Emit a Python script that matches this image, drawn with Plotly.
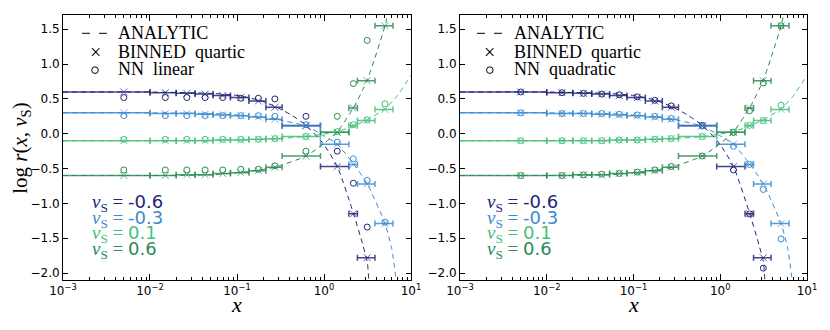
import plotly.graph_objects as go
from plotly.subplots import make_subplots

# x bins shared by every binned series (centre, lower edge, upper edge)
x_bin = [0.005, 0.015, 0.0265, 0.043, 0.0685, 0.1105, 0.176, 0.2725, 0.62, 1.42, 2.175, 3.135, 5.025]
x_lo = [0.0001, 0.01, 0.02, 0.033, 0.053, 0.084, 0.137, 0.215, 0.33, 0.91, 1.93, 2.42, 3.85]
x_hi = [0.01, 0.02, 0.033, 0.053, 0.084, 0.137, 0.215, 0.33, 0.91, 1.93, 2.42, 3.85, 6.2]

nu_labels = ["-0.6", "-0.3", "0.1", "0.6"]
colors = ["#232577", "#3a8bd0", "#45c07b", "#2b8b55"]

x_tickvals = [0.001, 0.01, 0.1, 1, 10]
x_ticktext = ["10<sup>−3</sup>", "10<sup>−2</sup>", "10<sup>−1</sup>", "10<sup>0</sup>", "10<sup>1</sup>"]

# BINNED quartic (same in both panels)
bin_m06 = [0.60, 0.59, 0.58, 0.57, 0.55, 0.52, 0.47, 0.38, 0.12, -0.47, -1.15, -1.78, None]
bin_m03 = [0.30, 0.29, 0.29, 0.28, 0.27, 0.26, 0.24, 0.21, 0.11, -0.15, -0.44, -0.72, -1.29]
bin_p01 = [-0.10, -0.10, -0.10, -0.10, -0.09, -0.09, -0.08, -0.07, -0.04, 0.02, 0.12, 0.19, 0.35]
bin_p06 = [-0.60, -0.60, -0.59, -0.59, -0.57, -0.56, -0.53, -0.48, -0.32, 0.02, 0.37, 0.76, 1.55]

# NN linear (left panel)
lin_m06 = [0.52, 0.52, 0.52, 0.52, 0.52, 0.51, 0.51, 0.50, 0.25, -0.25, -0.71, -1.34, None]
lin_m03 = [0.26, 0.26, 0.26, 0.26, 0.26, 0.26, 0.26, 0.25, 0.13, -0.12, -0.36, -0.67, -1.27]
lin_p01 = [-0.08, -0.08, -0.08, -0.08, -0.08, -0.08, -0.08, -0.07, -0.04, 0.03, 0.13, 0.20, 0.43]
lin_p06 = [-0.52, -0.52, -0.52, -0.52, -0.52, -0.51, -0.51, -0.46, -0.25, 0.25, 0.72, 1.34, None]

# NN quadratic (right panel)
quad_m06 = [0.60, 0.59, 0.58, 0.57, 0.56, 0.53, 0.48, 0.40, 0.12, -0.52, -1.15, -1.93, None]
quad_m03 = [0.30, 0.29, 0.29, 0.29, 0.28, 0.27, 0.25, 0.22, 0.11, -0.18, -0.44, -0.80, -1.51]
quad_p01 = [-0.10, -0.10, -0.10, -0.10, -0.09, -0.09, -0.08, -0.07, -0.04, 0.02, 0.12, 0.19, 0.41]
quad_p06 = [-0.60, -0.60, -0.59, -0.58, -0.57, -0.55, -0.52, -0.47, -0.32, 0.02, 0.33, 0.73, 1.55]

# ANALYTIC curves
ana_x_m06 = [0.001, 0.01, 0.05, 0.1, 0.18, 0.275, 0.42, 0.62, 0.95, 1.42, 2.175, 2.8, 3.15, 3.3]
ana_y_m06 = [0.60, 0.60, 0.58, 0.55, 0.48, 0.39, 0.27, 0.12, -0.12, -0.47, -1.14, -1.60, -1.85, -2.2]
ana_x_m03 = [0.001, 0.01, 0.05, 0.1, 0.18, 0.275, 0.62, 1.0, 1.42, 2.175, 3.135, 5.025, 6.0, 6.9]
ana_y_m03 = [0.30, 0.30, 0.29, 0.27, 0.24, 0.21, 0.11, -0.03, -0.15, -0.43, -0.72, -1.29, -1.65, -2.2]
ana_x_p01 = [0.001, 0.01, 0.1, 0.275, 0.62, 1.42, 2.175, 3.135, 5.025, 7.0, 10.0]
ana_y_p01 = [-0.10, -0.10, -0.09, -0.07, -0.04, 0.03, 0.11, 0.20, 0.36, 0.55, 0.84]
ana_x_p06 = [0.001, 0.01, 0.05, 0.1, 0.18, 0.275, 0.62, 1.0, 1.42, 2.175, 3.135, 5.025, 5.8]
ana_y_p06 = [-0.60, -0.60, -0.59, -0.56, -0.52, -0.48, -0.32, -0.14, 0.03, 0.37, 0.77, 1.55, 1.9]

binned = [bin_m06, bin_m03, bin_p01, bin_p06]
nn_sets = [[lin_m06, lin_m03, lin_p01, lin_p06], [quad_m06, quad_m03, quad_p01, quad_p06]]
nn_names = ["NN  linear", "NN  quadratic"]
ana_x = [ana_x_m06, ana_x_m03, ana_x_p01, ana_x_p06]
ana_y = [ana_y_m06, ana_y_m03, ana_y_p01, ana_y_p06]

plus = [h - c for c, h in zip(x_bin, x_hi)]
minus = [c - l for c, l in zip(x_bin, x_lo)]

def rgba(hexc, a):
    h = hexc.lstrip("#")
    return "rgba(%d,%d,%d,%.2f)" % (int(h[0:2], 16), int(h[2:4], 16), int(h[4:6], 16), a)

fig = make_subplots(rows=1, cols=2)

for col in (1, 2):
    for i, c in enumerate(colors):
        fig.add_trace(go.Scatter(
            x=x_bin, y=binned[i], mode="markers",
            marker=dict(symbol="x-thin-open", size=7, color=rgba(c, 0.7), line=dict(width=1)),
            error_x=dict(type="data", symmetric=False, array=plus, arrayminus=minus,
                         color=rgba(c, 0.85), thickness=1.5, width=3),
            showlegend=False, hoverinfo="skip"), row=1, col=col)
    for i, c in enumerate(colors):
        fig.add_trace(go.Scatter(
            x=ana_x[i], y=ana_y[i], mode="lines",
            line=dict(color=c, width=1, dash="5px,4px", shape="spline", smoothing=0.6),
            showlegend=False, hoverinfo="skip"), row=1, col=col)
    for i, c in enumerate(colors):
        fig.add_trace(go.Scatter(
            x=x_bin, y=nn_sets[col - 1][i], mode="markers",
            marker=dict(symbol="circle-open", size=6, color=c, line=dict(width=1)),
            showlegend=False, hoverinfo="skip"), row=1, col=col)

xaxis_style = dict(
    type="log", range=[-3, 1], tickvals=x_tickvals, ticktext=x_ticktext,
    showline=True, linecolor="black", linewidth=1, mirror="allticks",
    ticks="inside", ticklen=6, tickcolor="black",
    minor=dict(ticks="inside", ticklen=3, tickcolor="black", dtick="D1", showgrid=False),
    showgrid=False, zeroline=False, automargin=False,
    tickfont=dict(family="DejaVu Sans", size=12, color="black"))
yaxis_style = dict(
    range=[-2.1, 1.705], dtick=0.5, tick0=0, tickformat=".1f",
    showline=True, linecolor="black", linewidth=1, mirror="allticks",
    ticks="inside", ticklen=5, tickcolor="black",
    showgrid=False, zeroline=False, automargin=False,
    tickfont=dict(family="DejaVu Sans", size=12, color="black"))

fig.update_layout(
    width=830, height=330,
    margin=dict(l=0, r=0, t=0, b=0),
    paper_bgcolor="white", plot_bgcolor="white",
    xaxis=dict(domain=[0.0759, 0.4952], **xaxis_style),
    xaxis2=dict(domain=[0.5542, 0.9723], **xaxis_style),
    yaxis=dict(domain=[0.1515, 0.9545], **yaxis_style),
    yaxis2=dict(domain=[0.1515, 0.9545], **yaxis_style),
)

serif = "Liberation Serif"
ann = []
shapes = []
label_rows = [0.29, 0.231, 0.173, 0.114]
for k, (xr, yr) in enumerate([("x domain", "y domain"), ("x2 domain", "y2 domain")]):
    sym_x = [0.092, 0.086][k]
    txt_x = [0.151, 0.149][k]
    dash_x = [(0.0546, 0.126), (0.049, 0.121)][k]
    # legend
    shapes.append(dict(type="line", xref=xr, yref=yr, x0=dash_x[0], x1=dash_x[1], y0=0.931, y1=0.931,
                       line=dict(color="black", width=1, dash="8px,9px")))
    shapes.append(dict(type="circle", xref=xr, yref=yr, x0=sym_x - 0.0095, x1=sym_x + 0.0095,
                       y0=0.792 - 0.0125, y1=0.792 + 0.0125, line=dict(color="black", width=1)))
    ann.append(dict(xref=xr, yref=yr, x=sym_x, y=0.862, text="×", showarrow=False,
                    font=dict(family=serif, size=20, color="black"), xanchor="center", yanchor="middle"))
    for text, yy in zip(["ANALYTIC", "BINNED  quartic", nn_names[k]], [0.931, 0.862, 0.795]):
        ann.append(dict(xref=xr, yref=yr, x=txt_x, y=yy, text=text, showarrow=False, align="left",
                        font=dict(family=serif, size=18, color="black"), xanchor="left", yanchor="middle"))
    # nu labels
    lab_x = [0.078, 0.072][k]
    for lab, c, yy in zip(nu_labels, colors, label_rows):
        ann.append(dict(xref=xr, yref=yr, x=lab_x, y=yy, align="left",
                        text="<i>ν</i><sub>S</sub> = <span style='font-family:DejaVu Sans;font-size:18px'>" + lab + "</span>",
                        showarrow=False, font=dict(family=serif, size=19, color=c),
                        xanchor="left", yanchor="middle"))

# axis titles
ann.append(dict(xref="paper", yref="paper", x=0.0245, y=0.553, textangle=-90,
                text="log <i>r</i>(<i>x</i>, <i>ν</i><sub>S</sub>)", showarrow=False,
                font=dict(family=serif, size=21, color="black"), xanchor="center", yanchor="middle"))
for xc in (0.2855, 0.763):
    ann.append(dict(xref="paper", yref="paper", x=xc, y=0.0758, text="<i>x</i>", showarrow=False,
                    font=dict(family=serif, size=22, color="black"), xanchor="center", yanchor="middle"))

fig.update_layout(annotations=ann, shapes=shapes)
fig.write_html("out.html", config={"displayModeBar": False},
               post_script="document.body.style.margin='0';")
